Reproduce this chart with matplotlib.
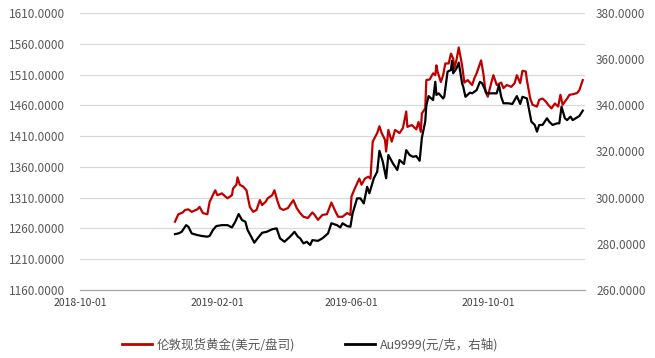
import matplotlib
matplotlib.use('Agg')
import matplotlib.pyplot as plt
import matplotlib.dates as mdates
from matplotlib.lines import Line2D
from matplotlib.ticker import FuncFormatter
import pandas as pd

plt.rcParams['font.family'] = ['Noto Sans CJK SC', 'DejaVu Sans']

red_dates = [
    '2018-12-25', '2018-12-28', '2019-01-01', '2019-01-03', '2019-01-06', '2019-01-09',
    '2019-01-14', '2019-01-16', '2019-01-19', '2019-01-23', '2019-01-25', '2019-01-30',
    '2019-02-01', '2019-02-05', '2019-02-08', '2019-02-10', '2019-02-14', '2019-02-15',
    '2019-02-18', '2019-02-19', '2019-02-21', '2019-02-24', '2019-02-27', '2019-03-02',
    '2019-03-05', '2019-03-08', '2019-03-11', '2019-03-13', '2019-03-16', '2019-03-18',
    '2019-03-22', '2019-03-24', '2019-03-27', '2019-03-29', '2019-04-01', '2019-04-05',
    '2019-04-10', '2019-04-13', '2019-04-16', '2019-04-19', '2019-04-23', '2019-04-27',
    '2019-04-29', '2019-05-02', '2019-05-06', '2019-05-10', '2019-05-14', '2019-05-17',
    '2019-05-20', '2019-05-24', '2019-05-28', '2019-05-31', '2019-06-01', '2019-06-04',
    '2019-06-08', '2019-06-10', '2019-06-13', '2019-06-16', '2019-06-18', '2019-06-20',
    '2019-06-24', '2019-06-26', '2019-06-28', '2019-07-01', '2019-07-02', '2019-07-04',
    '2019-07-07', '2019-07-10', '2019-07-14', '2019-07-17', '2019-07-20', '2019-07-21',
    '2019-07-25', '2019-07-29', '2019-07-31', '2019-08-02', '2019-08-03', '2019-08-06',
    '2019-08-07', '2019-08-10', '2019-08-13', '2019-08-15', '2019-08-16', '2019-08-17',
    '2019-08-20', '2019-08-22', '2019-08-24', '2019-08-27', '2019-08-29', '2019-08-31',
    '2019-09-01', '2019-09-03', '2019-09-05', '2019-09-08', '2019-09-10', '2019-09-13',
    '2019-09-17', '2019-09-19', '2019-09-21', '2019-09-25', '2019-09-27', '2019-09-29',
    '2019-10-01', '2019-10-04', '2019-10-06', '2019-10-09', '2019-10-13', '2019-10-15',
    '2019-10-18', '2019-10-22', '2019-10-25', '2019-10-27', '2019-10-30', '2019-11-01',
    '2019-11-04', '2019-11-05', '2019-11-08', '2019-11-10', '2019-11-14', '2019-11-16',
    '2019-11-19', '2019-11-22', '2019-11-24', '2019-11-27', '2019-11-30', '2019-12-03',
    '2019-12-05', '2019-12-07', '2019-12-11', '2019-12-13', '2019-12-16', '2019-12-20',
    '2019-12-22', '2019-12-25',
]
red_values = [
    1271, 1283, 1286, 1290, 1291, 1287,
    1291, 1295, 1285, 1283, 1303, 1322,
    1314, 1317, 1312, 1309, 1314, 1325,
    1331, 1343, 1331, 1328, 1322, 1295,
    1287, 1290, 1306, 1298, 1303, 1309,
    1314, 1322, 1303, 1293, 1290, 1293,
    1306, 1293, 1285, 1279, 1277, 1286,
    1282, 1274, 1282, 1283, 1302, 1290,
    1279, 1279, 1285, 1282, 1312, 1325,
    1341, 1331, 1341, 1344, 1341, 1401,
    1415, 1426, 1415, 1404, 1385, 1420,
    1401, 1420, 1415, 1423, 1450, 1425,
    1428, 1421, 1433, 1417, 1447, 1455,
    1501, 1502, 1512, 1509, 1525, 1515,
    1498, 1509, 1528, 1528, 1544, 1536,
    1520, 1534, 1554, 1525, 1497, 1501,
    1493, 1504, 1512, 1533, 1512, 1482,
    1474, 1496, 1509, 1493, 1497, 1488,
    1493, 1490, 1496, 1509, 1496, 1516,
    1515, 1501, 1471, 1461, 1458, 1469,
    1471, 1466, 1461, 1455, 1463, 1458,
    1477, 1461, 1471, 1477, 1478, 1480,
    1485, 1501,
]

black_dates = [
    '2018-12-25', '2018-12-28', '2018-12-31', '2019-01-04', '2019-01-06', '2019-01-09',
    '2019-01-14', '2019-01-18', '2019-01-23', '2019-01-25', '2019-01-28', '2019-01-31',
    '2019-02-05', '2019-02-10', '2019-02-14', '2019-02-17', '2019-02-20', '2019-02-23',
    '2019-02-26', '2019-02-28', '2019-03-04', '2019-03-06', '2019-03-09', '2019-03-13',
    '2019-03-17', '2019-03-22', '2019-03-26', '2019-03-29', '2019-04-02', '2019-04-07',
    '2019-04-11', '2019-04-14', '2019-04-16', '2019-04-19', '2019-04-22', '2019-04-25',
    '2019-04-27', '2019-05-02', '2019-05-06', '2019-05-11', '2019-05-14', '2019-05-19',
    '2019-05-22', '2019-05-24', '2019-05-28', '2019-05-31', '2019-06-02', '2019-06-06',
    '2019-06-09', '2019-06-12', '2019-06-15', '2019-06-17', '2019-06-21', '2019-06-24',
    '2019-06-26', '2019-06-29', '2019-07-02', '2019-07-04', '2019-07-08', '2019-07-12',
    '2019-07-14', '2019-07-18', '2019-07-20', '2019-07-23', '2019-07-26', '2019-07-29',
    '2019-08-01', '2019-08-03', '2019-08-06', '2019-08-07', '2019-08-09', '2019-08-13',
    '2019-08-15', '2019-08-16', '2019-08-18', '2019-08-22', '2019-08-23', '2019-08-26',
    '2019-08-29', '2019-08-30', '2019-08-31', '2019-09-03', '2019-09-05', '2019-09-08',
    '2019-09-09', '2019-09-11', '2019-09-15', '2019-09-17', '2019-09-21', '2019-09-24',
    '2019-09-26', '2019-09-30', '2019-10-05', '2019-10-09', '2019-10-11', '2019-10-13',
    '2019-10-15', '2019-10-19', '2019-10-23', '2019-10-27', '2019-10-30', '2019-11-01',
    '2019-11-05', '2019-11-07', '2019-11-09', '2019-11-12', '2019-11-14', '2019-11-16',
    '2019-11-19', '2019-11-23', '2019-11-25', '2019-11-28', '2019-12-02', '2019-12-04',
    '2019-12-06', '2019-12-09', '2019-12-11', '2019-12-14', '2019-12-16', '2019-12-20',
    '2019-12-22', '2019-12-25',
]
black_values = [
    284.2, 284.5, 285.2, 288.1, 287.4, 284.5,
    283.8, 283.4, 283.1, 283.4, 286.0, 287.7,
    288.1, 288.1, 287.1, 289.6, 292.9, 290.3,
    289.6, 286.0, 282.4, 280.5, 282.4, 284.8,
    285.2, 286.3, 286.7, 282.4, 280.9, 283.1,
    285.2, 283.1, 282.4, 280.2, 280.9, 279.5,
    281.6, 281.3, 282.4, 284.5, 288.9, 288.1,
    287.1, 288.9, 287.7, 287.4, 293.2, 299.7,
    299.7, 297.5, 304.7, 301.9, 308.4, 311.2,
    320.3, 315.6, 308.4, 318.5, 314.9, 312.0,
    316.3, 314.6, 320.6, 318.5, 317.7, 318.0,
    316.0, 326.0, 333.0, 340.0, 344.0, 342.3,
    350.2, 344.5, 345.2, 343.0, 343.7, 354.6,
    355.3, 359.3, 353.9, 356.0, 358.5, 349.5,
    348.1, 343.7, 345.5, 345.2, 346.6, 350.2,
    349.5, 345.2, 345.2, 345.2, 348.8, 343.7,
    340.9, 340.9, 340.6, 344.0, 340.6, 343.7,
    343.0, 338.0, 332.9, 331.5, 328.6, 331.5,
    331.5, 334.4, 332.9, 331.5, 332.2, 332.2,
    339.4, 334.4, 333.6, 335.1, 333.6, 334.8,
    335.4, 337.7,
]

left_ticks = [1160, 1210, 1260, 1310, 1360, 1410, 1460, 1510, 1560, 1610]
right_ticks = [260, 280, 300, 320, 340, 360, 380]
x_ticks = ['2018-10-01', '2019-02-01', '2019-06-01', '2019-10-01']
x_range = ['2018-10-01', '2019-12-27']
series_labels = ['伦敦现货黄金(美元/盘司)', 'Au9999(元/克，右轴)']

W, H = 655, 358
fig = plt.figure(figsize=(W / 100, H / 100), dpi=100)
ax = fig.add_axes([80 / W, 1 - 290 / H, 505 / W, 277 / H])
ax2 = ax.twinx()

red_x = pd.to_datetime(red_dates)
black_x = pd.to_datetime(black_dates)

ax.plot(red_x, red_values, color='#c00000', lw=1.6, solid_joinstyle='round')
ax2.plot(black_x, black_values, color='#000000', lw=1.6, solid_joinstyle='round')

ax.set_xlim(pd.Timestamp(x_range[0]), pd.Timestamp(x_range[1]))
ax.set_ylim(left_ticks[0], left_ticks[-1])
ax2.set_ylim(right_ticks[0], right_ticks[-1])
ax.set_yticks(left_ticks)
ax2.set_yticks(right_ticks)
ax.set_xticks(pd.to_datetime(x_ticks))
ax.xaxis.set_major_formatter(mdates.DateFormatter('%Y-%m-%d'))
fmt = FuncFormatter(lambda v, p: f'{v:.4f}')
ax.yaxis.set_major_formatter(fmt)
ax2.yaxis.set_major_formatter(fmt)

ax.grid(axis='y', color='#d9d9d9', lw=0.9)
ax.grid(axis='x', visible=False)
ax.set_axisbelow(True)

for a in (ax, ax2):
    for s in ('top', 'left', 'right'):
        a.spines[s].set_visible(False)
    a.spines['bottom'].set_visible(False)
ax.spines['bottom'].set_visible(True)
ax.spines['bottom'].set_color('#a6a6a6')
ax.spines['bottom'].set_linewidth(0.9)

ax.tick_params(axis='y', length=0, pad=11, labelsize=8.5, labelcolor='#595959')
ax2.tick_params(axis='y', length=0, pad=8, labelsize=8.5, labelcolor='#595959')
ax.tick_params(axis='x', length=0, pad=6, labelsize=7.5, labelcolor='#404040')

handles = [Line2D([], [], color='#c00000', lw=2),
           Line2D([], [], color='#000000', lw=2)]
leg = fig.legend(handles, series_labels, loc='center', bbox_to_anchor=(310 / W, 1 - 345 / H),
                 ncol=2, frameon=False, fontsize=9, handlelength=2.4,
                 handletextpad=0.4, columnspacing=4.0)
for t in leg.get_texts():
    t.set_color('#595959')

fig.savefig('out.png', dpi=100)
